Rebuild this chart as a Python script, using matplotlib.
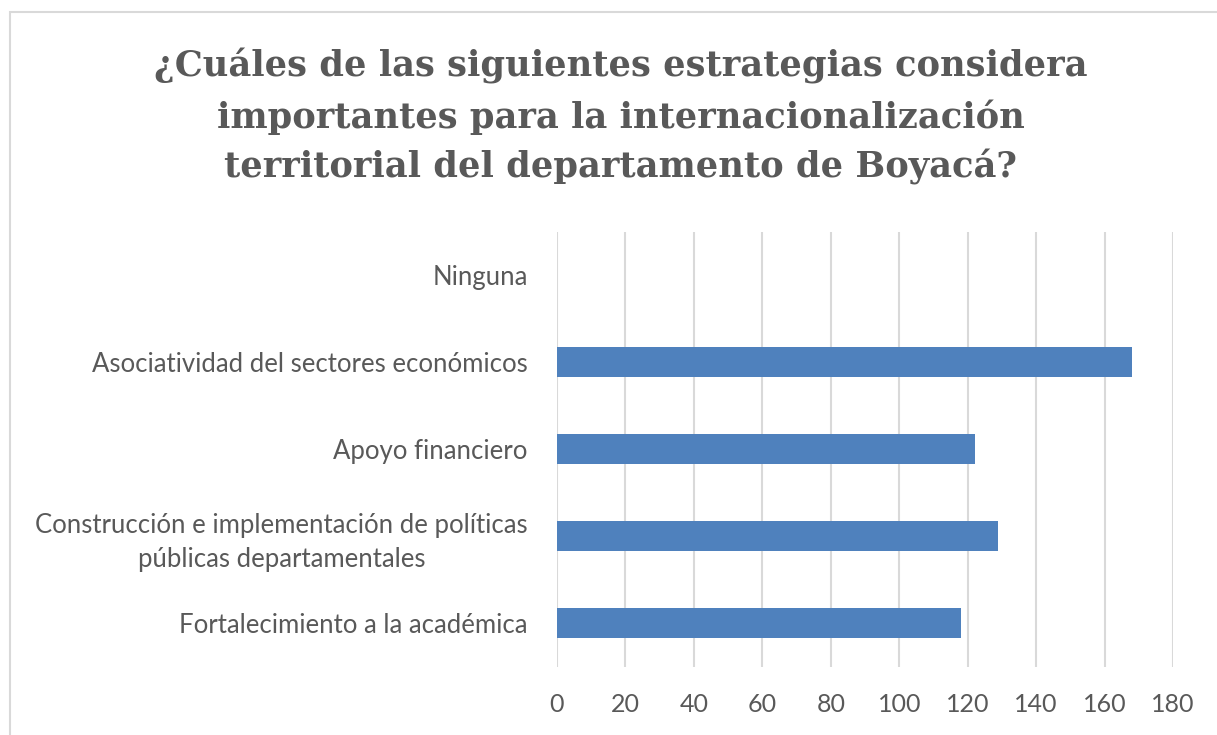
import matplotlib
matplotlib.use("Agg")
import matplotlib.pyplot as plt
from matplotlib.patches import Rectangle

categories = [
    "Fortalecimiento a la académica",
    "Construcción e implementación de políticas\npúblicas departamentales",
    "Apoyo financiero",
    "Asociatividad del sectores económicos",
    "Ninguna",
]
values = [118, 129, 122, 168, 0]
xticks = [0, 20, 40, 60, 80, 100, 120, 140, 160, 180]
title_lines = [
    "¿Cuáles de las siguientes estrategias considera",
    "importantes para la internacionalización",
    "territorial del departamento de Boyacá?",
]

W, H = 1217, 735
fig = plt.figure(figsize=(W / 100, H / 100), dpi=100)
fig.patch.set_facecolor("white")

# chart border
fig.patches.append(Rectangle((10 / W, -0.1), 1.2, 1 - 12 / H + 0.1, transform=fig.transFigure,
                             fill=False, edgecolor="#d9d9d9", linewidth=1.5))

ax = fig.add_axes([557 / W, 1 - 666.5 / H, 616 / W, 435 / H])
y = range(len(categories))
ax.barh(list(y), values, height=0.345, color="#4f81bd", zorder=3)
ax.set_xlim(0, 180)
ax.set_ylim(-0.5, len(categories) - 0.5)
ax.set_xticks(xticks)
ax.set_yticks(list(y))
ax.set_yticklabels(categories, multialignment="center", linespacing=1.4)
ax.grid(axis="x", color="#d9d9d9", linewidth=1.5, zorder=0)
for s in ax.spines.values():
    s.set_visible(False)
ax.tick_params(axis="x", length=0, pad=19, labelsize=18, labelcolor="#595959")
ax.tick_params(axis="y", length=0, pad=21, labelsize=18.5, labelcolor="#595959")
for lab in ax.get_xticklabels() + ax.get_yticklabels():
    lab.set_fontfamily("Lato")

ys = [66, 117, 167]
for t, yy in zip(title_lines, ys):
    fig.text(621 / W, 1 - yy / H, t, ha="center", va="center", fontsize=25.4,
             fontweight="bold", family="DejaVu Serif", color="#595959")

fig.savefig("out.png", dpi=100, facecolor="white")
